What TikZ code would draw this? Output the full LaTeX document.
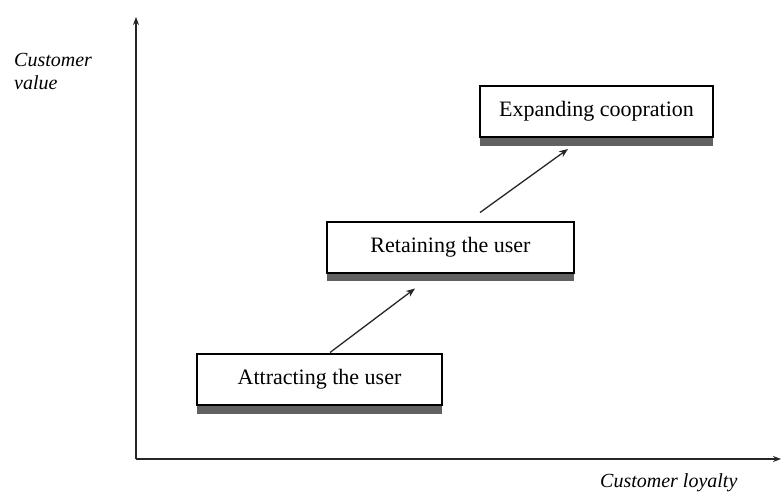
\documentclass[tikz,border=0pt]{standalone}
\usepackage{fontspec}
\setmainfont{Liberation Serif}
\usetikzlibrary{calc,arrows.meta}
\begin{document}
\begin{tikzpicture}[x=1pt,y=-1pt,
  stagebox/.style={draw=black,line width=2pt,fill=white,minimum height=51pt,
    inner sep=0pt,font=\fontsize{22}{26}\selectfont},
  shadowbar/.style={fill=black!62,draw=none},
  axisline/.style={draw=black!85,line width=2pt,-{Stealth[length=8pt,width=6pt]}},
  steparrow/.style={draw=black!85,line width=1.3pt,-{Stealth[length=9pt,width=7pt]}},
  axislabel/.style={font=\fontsize{20}{23}\selectfont\itshape,inner sep=0pt}]
\useasboundingbox (0,0) rectangle (781,497);

% axes
\coordinate (O) at (136,459);
\coordinate (ytip) at (136,17);
\coordinate (xtip) at (781,459);
\draw[axisline] (O) -- (ytip);
\draw[axisline] (O) -- (xtip);

% axis labels
\node[axislabel,anchor=north west,align=left] (vlabel) at (14,53) {Customer\\value};
\node[axislabel,anchor=north west] (llabel) at (600,473) {Customer loyalty};

% stage boxes with drop shadows
\fill[shadowbar] (197,405) rectangle (442,414);
\node[stagebox,minimum width=245pt] (attract) at (319.5,379) {Attracting the user};

\fill[shadowbar] (327,273) rectangle (574,281);
\node[stagebox,minimum width=247pt] (retain) at (450.5,247) {Retaining the user};

\fill[shadowbar] (480,137) rectangle (713,146);
\node[stagebox,minimum width=233pt] (expand) at (596.5,111.5) {Expanding coopration};

% transitions between stages
\draw[steparrow] ($(attract.north)+(10.5,0)$) -- ($(retain.south)+(-35.5,15)$);
\draw[steparrow] ($(retain.north)+(29.5,-8)$) -- ($(expand.south)+(-28.5,11)$);
\end{tikzpicture}
\end{document}
